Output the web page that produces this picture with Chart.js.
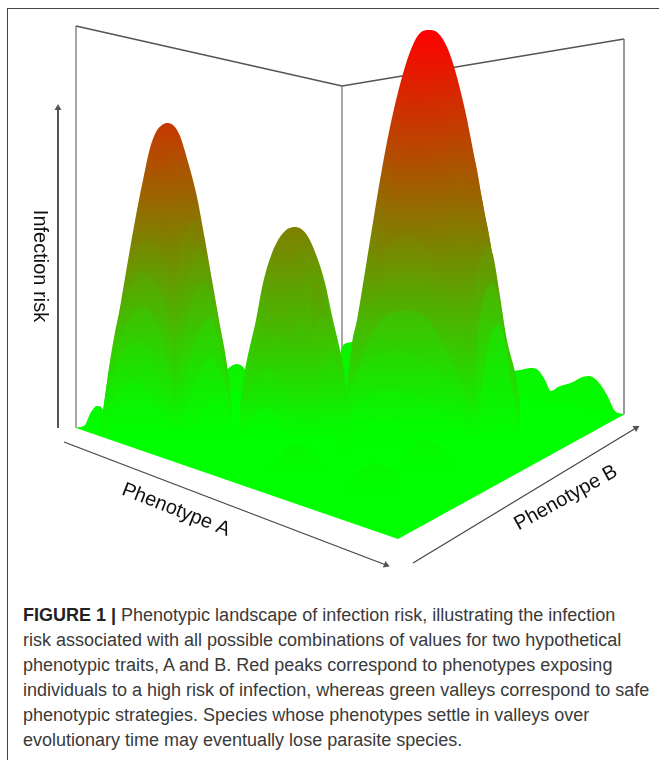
<!DOCTYPE html>
<html>
<head>
<meta charset="utf-8">
<title>Phenotypic landscape of infection risk</title>
<script src="https://cdn.jsdelivr.net/npm/chart.js@4"></script>
<style>
    html, body { margin: 0; background: #fff; }
    #page { position: relative; width: 659px; height: 760px; overflow: hidden; }
    #frame { position: absolute; left: 7px; top: 8px; width: 660px; height: 770px; border: 1.5px solid #444; box-sizing: border-box; }
    #plot { position: absolute; left: 0; top: 0; width: 659px; height: 570px; }
    #caption { position: absolute; left: 23px; top: 603px; font: 18px/25px "Liberation Sans", sans-serif; color: #3a3a3a; white-space: nowrap; }
    #caption b { color: #222; }
</style>
</head>
<body>
<div id="page">
    <div id="frame"></div>
    <div id="plot"><canvas id="chart" width="659" height="570"></canvas></div>
    <div id="caption">
        <b>FIGURE 1 |</b> Phenotypic landscape of infection risk, illustrating the infection<br>
        risk associated with all possible combinations of values for two hypothetical<br>
        phenotypic traits, A and B. Red peaks correspond to phenotypes exposing<br>
        individuals to a high risk of infection, whereas green valleys correspond to safe<br>
        phenotypic strategies. Species whose phenotypes settle in valleys over<br>
        evolutionary time may eventually lose parasite species.
    </div>
</div>
<script>
const axisTitles = ['Infection risk', 'Phenotype A', 'Phenotype B'];

const wallEdgeLeft = [[76, 428], [76, 26]];
const wallTopLeft = [[76, 26], [342, 86]];
const wallCorner = [[342, 86], [342, 360]];
const wallTopRight = [[342, 86], [624, 39]];
const wallEdgeRight = [[624, 39], [624, 414]];
const arrowRisk = [[58, 428], [58, 108]];
const arrowA = [[64, 442], [386, 565]];
const arrowB = [[413, 563], [636, 428]];
const frontEdge = [[68, 425], [76, 428], [398, 539], [625, 414], [659, 414]];
const floorBack = [[76, 428], [342, 380], [625, 414]];

const bumpLeft = [[76, 428], [85, 425], [90, 414], [97, 406], [102, 408], [106, 418], [110, 432]];
const bumpMiddle = [[218, 400], [226, 372], [230, 367], [237, 364], [243, 367], [248, 376], [255, 405]];
const bumpCentre = [[335, 390], [341, 350], [347, 343], [353, 342], [358, 352], [362, 400]];
const bumpRight = [[500, 400], [513, 372], [520, 370], [531, 368], [538, 370], [545, 380], [551, 391], [558, 387], [573, 382], [580, 378], [588, 376], [594, 378], [600, 384], [607, 395], [615, 411], [625, 415]];

const peak3Outer = [[347, 387], [352, 343], [357, 320], [368, 253], [380, 180], [390, 127], [402, 77], [412, 47], [420, 33], [429, 30], [438, 33], [447, 47], [455, 70], [465, 110], [473, 150], [483, 207], [493, 260], [503, 320], [508, 345], [515, 372], [520, 400]];
const peak3Arc1 = [[353, 395], [362, 340], [372, 280], [382, 215], [392, 155], [402, 105], [411, 78], [420, 70], [429, 75], [440, 97], [449, 130], [458, 180], [466, 240], [473, 310], [480, 395]];
const peak3Arc2 = [[352, 395], [363, 335], [374, 270], [385, 205], [396, 145], [408, 103], [419, 91], [430, 99], [441, 125], [450, 165], [459, 220], [467, 285], [476, 395]];
const peak3Arc3 = [[351, 395], [364, 325], [376, 262], [387, 200], [398, 145], [407, 122], [417, 113], [428, 121], [440, 150], [449, 190], [457, 240], [465, 305], [474, 395]];
const peak3Arc4 = [[350, 395], [365, 315], [378, 250], [389, 195], [399, 155], [405, 145], [415, 139], [427, 147], [438, 175], [447, 215], [455, 265], [463, 325], [472, 395]];
const peak3Arc5 = [[350, 395], [366, 310], [379, 245], [390, 200], [401, 175], [413, 168], [425, 176], [437, 205], [446, 245], [454, 295], [462, 345], [471, 395]];
const peak3Arc6 = [[350, 392], [367, 310], [380, 250], [391, 218], [401, 205], [411, 200], [423, 207], [435, 235], [445, 275], [453, 315], [461, 355], [471, 397]];
const peak3Arc7 = [[350, 390], [355, 347], [365, 313], [375, 280], [388, 247], [398, 238], [408, 235], [425, 247], [442, 277], [455, 313], [467, 367], [472, 397]];
const peak3Arc8 = [[349, 392], [358, 350], [372, 313], [382, 287], [394, 275], [405, 272], [425, 282], [442, 310], [455, 350], [468, 397]];
const peak3Arc9 = [[347, 395], [352, 387], [365, 350], [378, 323], [390, 313], [403, 310], [425, 317], [445, 347], [462, 387], [466, 400]];
const peak3Arc10 = [[345, 402], [355, 377], [372, 358], [385, 352], [395, 350], [418, 357], [442, 377], [458, 400], [460, 410]];
const peak3Arc11 = [[350, 420], [365, 397], [378, 391], [388, 390], [410, 393], [430, 402], [450, 420]];
const peak3Side1 = [[462, 395], [463, 300], [463, 220], [466, 165], [470, 147], [476, 165], [483, 205], [491, 250], [499, 300], [507, 350], [513, 395]];
const peak3Side2 = [[465, 397], [466, 310], [467, 240], [470, 195], [475, 177], [480, 190], [487, 225], [495, 270], [502, 315], [509, 365], [513, 395]];
const peak3Side3 = [[468, 395], [470, 300], [472, 245], [476, 220], [481, 210], [487, 225], [494, 265], [501, 310], [509, 360], [513, 395]];
const peak3Side4 = [[472, 397], [473, 320], [477, 275], [482, 252], [488, 245], [493, 255], [499, 290], [505, 330], [512, 380]];
const peak3Side5 = [[476, 397], [478, 340], [482, 305], [487, 288], [492, 283], [497, 292], [502, 320], [507, 355], [513, 395]];
const peak3Side6 = [[481, 398], [485, 365], [489, 340], [494, 327], [498, 325], [503, 332], [508, 360], [511, 385], [515, 400]];

const peak1Outer = [[100, 430], [104, 411], [111, 365], [118, 320], [125, 278], [131, 243], [137, 210], [144, 175], [150, 148], [156, 132], [162, 125], [168, 123], [174, 126], [180, 136], [188, 162], [197, 197], [205, 240], [212, 280], [219, 320], [228, 372], [232, 410]];
const peak1Arc1 = [[108, 415], [122, 320], [129, 270], [135, 240], [142, 205], [149, 170], [158, 152], [167, 158], [173, 185], [178, 220], [180, 270], [180, 330], [178, 420]];
const peak1Arc2 = [[107, 415], [121, 325], [129, 275], [136, 235], [143, 200], [149, 178], [155, 167], [165, 175], [171, 205], [175, 250], [176, 300], [177, 420]];
const peak1Arc3 = [[106, 415], [120, 330], [128, 280], [136, 238], [142, 210], [147, 195], [152, 188], [163, 196], [169, 230], [173, 275], [175, 330], [176, 420]];
const peak1Arc4 = [[105, 415], [118, 335], [126, 285], [134, 245], [141, 222], [150, 213], [161, 222], [167, 255], [171, 295], [174, 350], [175, 420]];
const peak1Arc5 = [[103, 410], [113, 343], [123, 297], [133, 263], [139, 247], [146, 241], [158, 248], [165, 275], [170, 320], [173, 375], [175, 420]];
const peak1Arc6 = [[103, 413], [110, 363], [120, 323], [130, 287], [136, 276], [142, 272], [155, 282], [165, 310], [170, 345], [174, 400]];
const peak1Arc7 = [[107, 400], [117, 350], [127, 323], [133, 311], [140, 306], [157, 323], [167, 363], [173, 407]];
const peak1Arc8 = [[105, 412], [110, 387], [120, 357], [128, 346], [137, 342], [150, 348], [157, 373], [167, 410]];
const peak1Arc9 = [[110, 413], [117, 393], [125, 384], [132, 381], [150, 393], [162, 417]];
const peak1Side1 = [[172, 420], [172, 300], [173, 230], [177, 190], [182, 175], [187, 185], [194, 220], [201, 262], [208, 310], [216, 370], [222, 420]];
const peak1Side2 = [[176, 420], [177, 320], [180, 260], [186, 230], [193, 220], [198, 230], [205, 265], [212, 310], [220, 370], [226, 420]];
const peak1Side3 = [[175, 417], [178, 363], [183, 303], [190, 270], [200, 250], [207, 263], [213, 293], [220, 330], [227, 390]];
const peak1Side4 = [[177, 420], [180, 377], [187, 323], [193, 297], [205, 283], [212, 300], [218, 327], [225, 370], [230, 410]];
const peak1Side5 = [[180, 420], [182, 403], [190, 360], [198, 333], [210, 318], [217, 333], [223, 363], [230, 410]];
const peak1Side6 = [[185, 420], [190, 397], [200, 370], [212, 357], [220, 373], [228, 397], [232, 420]];
const peak1Side7 = [[196, 430], [200, 420], [207, 407], [218, 398], [228, 413], [234, 430]];

const peak2Outer = [[240, 403], [245, 370], [256, 320], [263, 283], [272, 253], [283, 233], [295, 227], [307, 235], [317, 257], [325, 283], [333, 320], [340, 350], [347, 390], [352, 420]];
const peak2Arc1 = [[248, 400], [258, 330], [266, 285], [274, 255], [283, 245], [292, 250], [301, 275], [308, 310], [312, 360], [313, 420]];
const peak2Arc2 = [[247, 400], [258, 335], [266, 295], [273, 268], [280, 260], [290, 266], [298, 290], [305, 325], [310, 375], [312, 420]];
const peak2Arc3 = [[246, 400], [257, 345], [265, 310], [272, 287], [278, 282], [288, 288], [297, 315], [304, 350], [310, 400]];
const peak2Arc4 = [[245, 397], [255, 350], [263, 317], [276, 307], [292, 320], [302, 353], [310, 400]];
const peak2Arc5 = [[243, 417], [252, 380], [262, 347], [273, 335], [292, 353], [302, 390], [308, 430]];
const peak2Arc6 = [[245, 417], [255, 383], [267, 370], [285, 387], [297, 420]];
const peak2Arc7 = [[245, 437], [252, 420], [265, 407], [278, 420], [288, 443]];
const peak2Side1 = [[306, 420], [308, 350], [311, 305], [317, 283], [323, 295], [330, 320], [337, 355], [345, 400]];
const peak2Side2 = [[307, 423], [310, 377], [313, 337], [323, 317], [332, 337], [338, 360], [347, 405]];
const peak2Side3 = [[317, 430], [318, 403], [323, 363], [332, 350], [338, 370], [345, 390], [350, 420]];
const peak2Side4 = [[325, 437], [330, 397], [340, 385], [345, 397], [352, 420]];
const peak2Side5 = [[335, 457], [338, 437], [348, 423], [355, 437], [362, 455]];

const lowArc1 = [[345, 450], [360, 428], [383, 417], [405, 423], [425, 445]];
const lowArc2 = [[345, 490], [358, 472], [373, 463], [392, 470], [410, 490]];
const lowArc3 = [[400, 465], [412, 447], [423, 440], [440, 447], [455, 468]];
const lowArc4 = [[270, 470], [285, 450], [296, 444], [312, 452], [325, 472]];

// back to front, each with how far towards red it is at its crest (0 green, 1 red)
const sheets = [bumpLeft, bumpMiddle, bumpCentre, bumpRight, floorBack,
    peak3Outer, peak3Arc1, peak3Arc2, peak3Arc3, peak3Arc4, peak3Side1, peak3Arc5, peak3Side2, peak3Arc6, peak3Side3,
    peak3Arc7, peak3Side4, peak3Arc8, peak3Side5, peak3Arc9, peak3Side6, peak3Arc10, peak3Arc11,
    peak1Outer, peak1Arc1, peak1Side1, peak1Arc2, peak1Arc3, peak1Arc4, peak1Side2, peak1Arc5, peak1Side3, peak1Arc6, peak1Side4,
    peak1Arc7, peak1Side5, peak1Arc8, peak1Side6, peak1Arc9, peak1Side7,
    peak2Outer, peak2Arc1, peak2Arc2, peak2Arc3, peak2Side1, peak2Arc4, peak2Side2, peak2Arc5, peak2Side3, peak2Arc6, peak2Side4, peak2Arc7, peak2Side5,
    lowArc1, lowArc2, lowArc3, lowArc4];
const sheetCrestRed = [0.02, 0.05, 0.05, 0.03, 0,
    1, 0.91, 0.86, 0.81, 0.75, 0.72, 0.68, 0.65, 0.6, 0.57,
    0.5, 0.45, 0.4, 0.3, 0.26, 0.14, 0.16, 0.07,
    0.78, 0.72, 0.66, 0.68, 0.63, 0.56, 0.52, 0.47, 0.43, 0.37, 0.33,
    0.26, 0.21, 0.16, 0.11, 0.07, 0.03,
    0.5, 0.47, 0.43, 0.38, 0.4, 0.33, 0.3, 0.25, 0.2, 0.15, 0.12, 0.04, 0.03,
    0.02, 0.03, 0.03, 0.03];

const titleSpots = [[40, 266, 90], [176, 510, 21.5], [566, 498, -29]];

const toPoints = pairs => pairs.map(p => ({x: p[0], y: p[1]}));

function sheetColor(points, crestRed) {
    const crest = Math.min(...points.map(p => p[1]));
    const greenAt = Math.max(438, crest + 30);
    return ctx => {
        const y = ctx.chart.scales.y;
        const top = y ? y.getPixelForValue(crest) : NaN;
        // scales have no size yet the first time options get resolved
        if (!Number.isFinite(top)) {
            return 'rgb(0,255,0)';
        }
        const g = ctx.chart.ctx.createLinearGradient(0, top, 0, y.getPixelForValue(greenAt));
        g.addColorStop(0, `rgb(${Math.round(255 * crestRed)},${Math.round(255 * (1 - crestRed))},0)`);
        g.addColorStop(1, 'rgb(0,255,0)');
        return g;
    };
}

const datasets = [];
[[wallEdgeLeft, '#8a8a8a'], [wallTopLeft, '#555'], [wallCorner, '#8a8a8a'], [wallTopRight, '#555'], [wallEdgeRight, '#777']].forEach(([points, color]) => datasets.push({
    data: toPoints(points), borderColor: color, borderWidth: 1.5, pointRadius: 0, fill: false,
}));
sheets.forEach((points, i) => datasets.push({
    data: toPoints(points),
    backgroundColor: sheetColor(points, sheetCrestRed[i]),
    borderWidth: 0,
    pointRadius: 0,
    cubicInterpolationMode: 'monotone',
    fill: {target: {value: 570}},
}));
datasets.push({
    data: toPoints(frontEdge), backgroundColor: '#fff', borderWidth: 0, pointRadius: 0, fill: {target: {value: 570}},
});
[[arrowRisk, 0, 1.8], [arrowA, 111, 1.2], [arrowB, 59, 1.2]].forEach(([points, turn, width]) => datasets.push({
    data: toPoints(points),
    borderColor: '#444',
    borderWidth: width,
    backgroundColor: '#555',
    pointStyle: 'triangle',
    pointRadius: [0, 4],
    pointBorderWidth: 0,
    pointRotation: [0, turn],
    fill: false,
}));
// the first dataset is painted last by default, so turn that round
datasets.forEach((d, i) => { d.order = datasets.length - i; });

const axisTitlePlugin = {
    id: 'axisTitlePlugin',
    afterDraw(chart) {
        const {ctx, scales} = chart;
        axisTitles.forEach((text, i) => {
            const spot = titleSpots[i];
            ctx.save();
            ctx.translate(scales.x.getPixelForValue(spot[0]), scales.y.getPixelForValue(spot[1]));
            ctx.rotate(spot[2] * Math.PI / 180);
            ctx.font = '20px "Liberation Sans", sans-serif';
            ctx.fillStyle = '#111';
            ctx.textAlign = 'center';
            ctx.textBaseline = 'middle';
            ctx.fillText(text, 0, 0);
            ctx.restore();
        });
    },
};

new Chart(document.getElementById('chart'), {
    type: 'line',
    data: {datasets: datasets},
    plugins: [axisTitlePlugin],
    options: {
        responsive: false,
        animation: false,
        events: [],
        plugins: {legend: {display: false}, tooltip: {enabled: false}},
        layout: {padding: 0, autoPadding: false},
        scales: {
            x: {type: 'linear', min: 0, max: 659, display: false},
            y: {type: 'linear', min: 0, max: 570, reverse: true, display: false},
        },
    },
});
</script>
</body>
</html>
